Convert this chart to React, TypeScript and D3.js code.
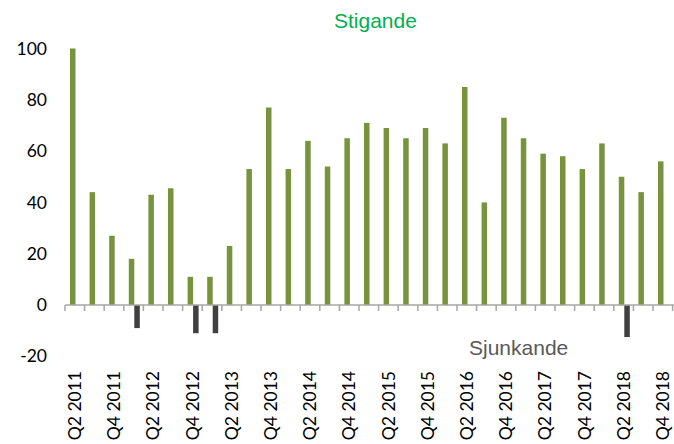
import React from 'react'
import * as d3 from 'd3'

// quarters Q2 2011 .. Q4 2018
const quarters = [
  'Q2 2011', 'Q3 2011', 'Q4 2011', 'Q1 2012', 'Q2 2012', 'Q3 2012', 'Q4 2012', 'Q1 2013',
  'Q2 2013', 'Q3 2013', 'Q4 2013', 'Q1 2014', 'Q2 2014', 'Q3 2014', 'Q4 2014', 'Q1 2015',
  'Q2 2015', 'Q3 2015', 'Q4 2015', 'Q1 2016', 'Q2 2016', 'Q3 2016', 'Q4 2016', 'Q1 2017',
  'Q2 2017', 'Q3 2017', 'Q4 2017', 'Q1 2018', 'Q2 2018', 'Q3 2018', 'Q4 2018',
]

// "Stigande" (rising)
const rising = [
  100, 44, 27, 18, 43, 45.5, 11, 11, 23, 53, 77, 53, 64, 54, 65, 71,
  69, 65, 69, 63, 85, 40, 73, 65, 59, 58, 53, 63, 50, 44, 56,
]

// "Sjunkande" (falling)
const falling = [
  0, 0, 0, -9, 0, 0, -11, -11, 0, 0, 0, 0, 0, 0, 0, 0,
  0, 0, 0, 0, 0, 0, 0, 0, 0, 0, 0, 0, -12.5, 0, 0,
]

const yTicks = [-20, 0, 20, 40, 60, 80, 100]

const W = 674
const H = 444
const axisFont = 'Lato, "Liberation Sans", sans-serif'
const titleFont = '"Liberation Sans", Arial, sans-serif'

export default function App() {
  const x0 = d3.scaleBand<string>().domain(quarters).range([65, 672.6]).padding(0)
  const x1 = d3.scaleBand<string>().domain(['up', 'down']).range([5, 16]).padding(0)
  const y = d3.scaleLinear().domain([-20, 100]).range([356.3, 48.5])

  const labelled = quarters.filter((_, i) => i % 2 === 0)

  return (
    <svg
      width={W}
      height={H}
      style={{ position: 'absolute', left: 0, top: 0, background: '#fff' }}
    >
      {/* y tick labels */}
      {yTicks.map((t) => (
        <text
          key={t}
          x={47}
          y={y(t)}
          dy="0.35em"
          textAnchor="end"
          fontFamily={axisFont}
          fontSize={17.5}
          fill="#000"
        >
          {t}
        </text>
      ))}

      {/* bars */}
      {quarters.map((q, i) => (
        <g key={q} transform={`translate(${x0(q)},0)`}>
          {rising[i] !== 0 && (
            <rect
              x={x1('up')}
              width={x1.bandwidth()}
              y={y(rising[i])}
              height={y(0) - y(rising[i])}
              fill="#77933c"
            />
          )}
          {falling[i] !== 0 && (
            <rect
              x={x1('down')}
              width={x1.bandwidth()}
              y={y(0)}
              height={y(falling[i]) - y(0)}
              fill="#404040"
            />
          )}
        </g>
      ))}

      {/* x axis */}
      <line x1={65} x2={W} y1={y(0)} y2={y(0)} stroke="#a6a6a6" strokeWidth={1.5} />
      {quarters.map((q) => (
        <line
          key={'t' + q}
          x1={x0(q)}
          x2={x0(q)}
          y1={y(0)}
          y2={y(0) + 6}
          stroke="#a6a6a6"
          strokeWidth={1.5}
        />
      ))}
      <line
        x1={x0.range()[1]}
        x2={x0.range()[1]}
        y1={y(0)}
        y2={y(0) + 6}
        stroke="#a6a6a6"
        strokeWidth={1.5}
      />

      {/* x labels */}
      {labelled.map((q) => (
        <text
          key={'l' + q}
          transform={`translate(${(x0(q) as number) + x0.bandwidth() / 2},371) rotate(-90)`}
          dy="0.35em"
          textAnchor="end"
          fontFamily={axisFont}
          fontSize={17.5}
          fill="#000"
        >
          {q}
        </text>
      ))}

      <text x={334} y={28.3} fontFamily={titleFont} fontSize={21} fill="#00b050">
        Stigande
      </text>
      <text x={469} y={355} fontFamily={titleFont} fontSize={21} fill="#595959">
        Sjunkande
      </text>
    </svg>
  )
}
